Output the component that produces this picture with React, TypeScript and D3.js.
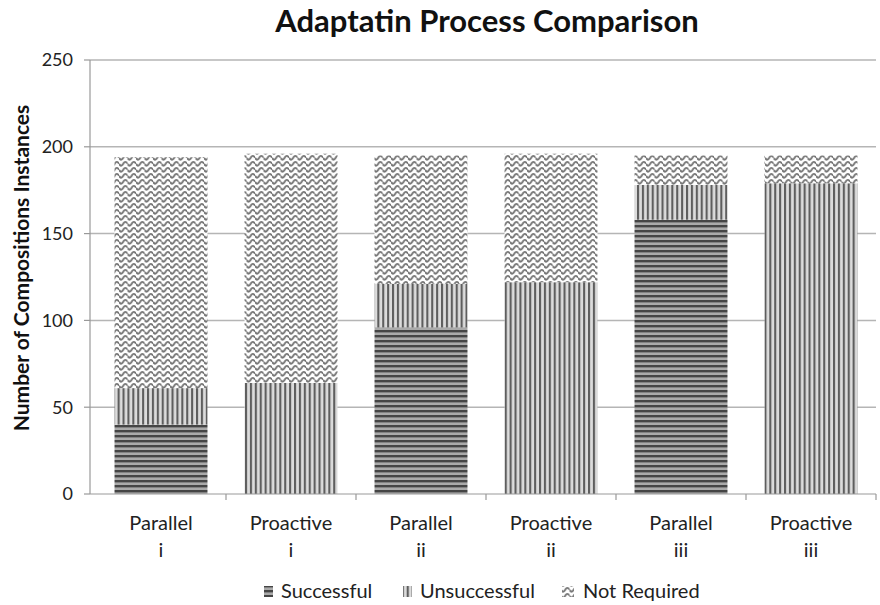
import React from "react";
import * as d3 from "d3";

const categories = ["Parallel|i", "Proactive|i", "Parallel|ii", "Proactive|ii", "Parallel|iii", "Proactive|iii"];
const successful = [40, 0, 96, 0, 158, 0];
const unsuccessful = [21, 64, 25, 122, 20, 179];
const notRequired = [133, 132, 74, 74, 17, 16];
const seriesNames = ["Successful", "Unsuccessful", "Not Required"];
const yTicks = [0, 50, 100, 150, 200, 250];

const W = 880, H = 605;
const FONT = "Lato, 'Open Sans', sans-serif";

export default function App() {
  const x = d3.scaleBand<string>().domain(categories).range([96, 876]).paddingInner(0.285).paddingOuter(0.1425);
  const y = d3.scaleLinear().domain([0, 250]).range([494, 60]);
  const table = categories.map((c, i) => ({ cat: c, Successful: successful[i], Unsuccessful: unsuccessful[i], "Not Required": notRequired[i] }));
  const stack = d3.stack<any>().keys(seriesNames)(table);
  const fills = ["url(#pSucc)", "url(#pUns)", "url(#pNR)"];
  const legendX = [264, 403, 562];
  const legendTextX = [281, 420, 583];

  return (
    <svg width={W} height={H} style={{ position: "absolute", left: 0, top: 0, background: "#fff" }} fontFamily={FONT}>
      <defs>
        <pattern id="pSucc" patternUnits="userSpaceOnUse" width={10} height={5}>
          <rect width={10} height={5} fill="#aaaaaa" />
          <rect width={10} height={2.4} fill="#454545" />
        </pattern>
        <pattern id="pUns" patternUnits="userSpaceOnUse" width={4.9} height={10}>
          <rect width={4.9} height={10} fill="#dcdcdc" />
          <rect width={2.1} height={10} fill="#5e5e5e" />
        </pattern>
        <pattern id="pNR" patternUnits="userSpaceOnUse" width={8.5} height={6}>
          <rect width={8.5} height={6} fill="#fff" />
          <path d="M0,1.8 Q2.125,5.6 4.25,1.8 Q6.375,-2 8.5,1.8" fill="none" stroke="#777" strokeWidth={1.9} />
          <path d="M0,7.8 Q2.125,11.6 4.25,7.8 Q6.375,4 8.5,7.8" fill="none" stroke="#777" strokeWidth={1.9} />
          <path d="M0,-4.2 Q2.125,-0.4 4.25,-4.2 Q6.375,-8 8.5,-4.2" fill="none" stroke="#777" strokeWidth={1.9} />
        </pattern>
      </defs>

      <text x={487} y={32} textAnchor="middle" fontSize={31} fontWeight="bold" fill="#111">Adaptatin Process Comparison</text>

      {yTicks.map((t) => (
        <g key={t}>
          {t > 0 && <line x1={90} x2={876} y1={y(t)} y2={y(t)} stroke="#b5b5b5" strokeWidth={1.5} />}
          <line x1={84} x2={90} y1={y(t)} y2={y(t)} stroke="#999" strokeWidth={1.2} />
          <text x={73} y={y(t)} dy="0.35em" textAnchor="end" fontSize={18} fill="#222">{t}</text>
        </g>
      ))}

      {stack.map((s, si) => (
        <g key={s.key}>
          {s.map((d, i) => (
            d[1] - d[0] > 0 ? (
              <rect key={i} x={x(categories[i])} width={x.bandwidth()} y={y(d[1])} height={y(d[0]) - y(d[1])} fill={fills[si]} />
            ) : null
          ))}
        </g>
      ))}

      <line x1={90} x2={90} y1={60} y2={494} stroke="#999" strokeWidth={1.2} />
      <line x1={90} x2={876} y1={494} y2={494} stroke="#999" strokeWidth={1.2} />
      {categories.map((c, i) => (
        <line key={"t" + i} x1={(x(c) as number) + x.bandwidth() + x.step() * 0.1425} x2={(x(c) as number) + x.bandwidth() + x.step() * 0.1425} y1={494} y2={500} stroke="#999" strokeWidth={1.2} />
      ))}
      {categories.map((c) => {
        const [a, b] = c.split("|");
        const cx = (x(c) as number) + x.bandwidth() / 2;
        return (
          <g key={c}>
            <text x={cx} y={530} textAnchor="middle" fontSize={20} fill="#222">{a}</text>
            <text x={cx} y={557} textAnchor="middle" fontSize={20} fill="#222">{b}</text>
          </g>
        );
      })}

      <text transform="translate(29,268) rotate(-90)" textAnchor="middle" fontSize={21} fontWeight="bold" fill="#111">Number of Compositions Instances</text>

      {seriesNames.map((n, i) => (
        <g key={n}>
          <rect x={legendX[i]} y={586} width={i === 2 ? 12 : 9} height={11} fill={fills[i]} />
          <text x={legendTextX[i]} y={598} fontSize={20} fill="#222">{n}</text>
        </g>
      ))}
    </svg>
  );
}
